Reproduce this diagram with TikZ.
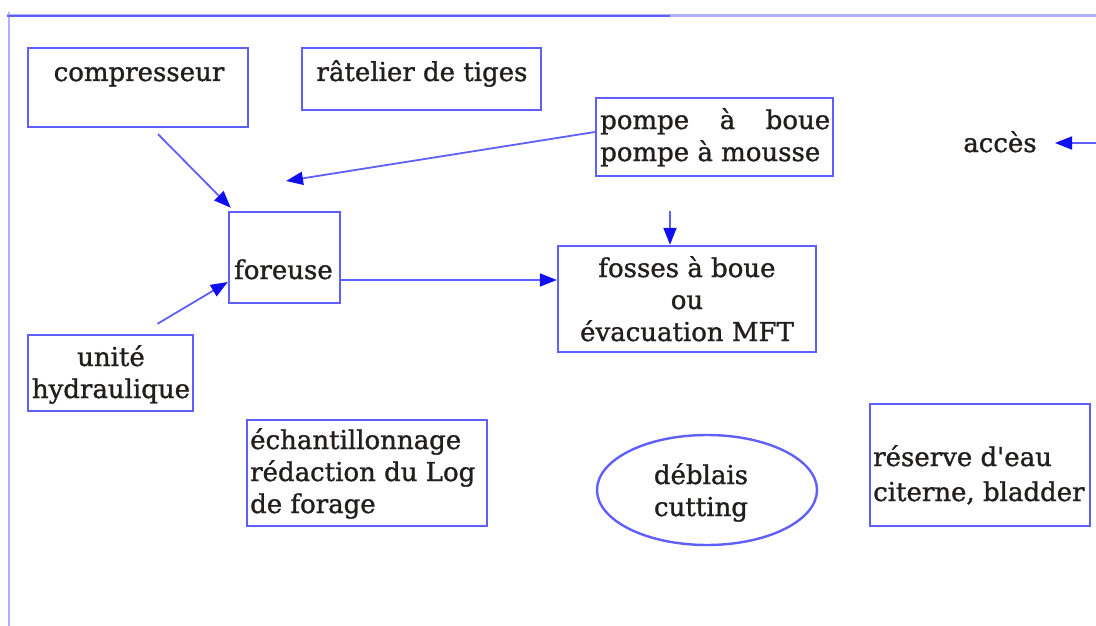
\documentclass[tikz,border=0pt]{standalone}
\usepackage{fontspec}
\setmainfont{DejaVu Serif}[Ligatures=TeXOff,FakeBold=1.2]
\usetikzlibrary{arrows.meta,shapes.geometric,calc}
\definecolor{bl}{RGB}{95,95,250}
\definecolor{bll}{RGB}{175,175,250}
\definecolor{arr}{RGB}{15,15,240}
\definecolor{txtc}{RGB}{35,30,30}
\begin{document}
\begin{tikzpicture}[x=1pt,y=-1pt,
  box/.style={draw=bl, line width=2.4pt, inner sep=0pt},
  txt/.style={inner sep=0pt, text=txtc, font=\fontsize{26}{32}\selectfont},
  conn/.style={draw=bl, line width=1.8pt, -{Triangle[length=17pt,width=13pt,color=arr]}}]
\useasboundingbox (0,0) rectangle (1096,626);
% page frame
\draw[bll, line width=2.5pt] (9,12) -- (9,626);
\draw[bll, line width=3pt] (7,16) -- (1096,16);
\draw[bl, line width=2.5pt] (7,16) -- (670,16);
% boxes
\node[box, minimum width=220pt, minimum height=79pt] (comp) at (138,87.5) {};
\node[box, minimum width=239pt, minimum height=62pt] (rat) at (421.5,79) {};
\node[box, minimum width=237pt, minimum height=78pt] (pomp) at (714.5,137) {};
\node[box, minimum width=111pt, minimum height=91pt] (for) at (284.5,257.5) {};
\node[box, minimum width=258pt, minimum height=106pt] (foss) at (687,299) {};
\node[box, minimum width=165pt, minimum height=76pt] (unit) at (110.5,373) {};
\node[box, minimum width=240pt, minimum height=106pt] (ech) at (367,473) {};
\node[box, ellipse, minimum width=220pt, minimum height=110pt] (debl) at (707,490) {};
\node[box, minimum width=220pt, minimum height=122pt] (res) at (980,465) {};
% texts
\node[txt, anchor=base] (compt) at (139,81) {compresseur};
\node[txt, anchor=base] (ratt) at (422,81) {râtelier de tiges};
\node[txt, anchor=base west, align=left] (pompt) at (600,161) {\makebox[230pt][s]{pompe\hfill à\hfill boue}\\pompe à mousse};
\node[txt, anchor=base west] (fort) at (234,279) {foreuse};
\node[txt, anchor=base, align=center] (fosst) at (687,341) {fosses à boue\\ou\\évacuation MFT};
\node[txt, anchor=base, align=center] (unitt) at (111,398) {unité\\hydraulique};
\node[txt, anchor=base west, align=left] (echt) at (250,513) {échantillonnage\\rédaction du Log\\de forage};
\node[txt, anchor=base, align=center] (deblt) at (701,516) {déblais\\cutting};
\node[txt, anchor=base west, align=left, font=\fontsize{26}{35}\selectfont] (rest) at (873,501) {réserve d'eau\\citerne, bladder};
\node[txt, anchor=base] (acc) at (1000,152) {accès};
% free ends
\coordinate (c1) at ($(comp.south)+(20,6)$);
\coordinate (c2) at (286,181);
\coordinate (c3) at ($(foss.north)+(-17,-34)$);
\coordinate (c4) at ($(unit.north)+(47,-10)$);
\coordinate (c5) at (1096,143);
\coordinate (c5e) at (1055,143);
% connectors
\draw[conn] (c1) -- ($(for.north west)+(3,-3)$);
\draw[conn] ($(pomp.west)+(0,-5)$) -- (c2);
\draw[conn] (c3) -- (c3 |- foss.north);
\draw[conn] (for.east |- 0,280) -- (foss.west |- 0,280);
\draw[conn] (c4) -- ($(for.west)+(0,24.5)$);
\draw[conn] (c5) -- (c5e);
\end{tikzpicture}
\end{document}
